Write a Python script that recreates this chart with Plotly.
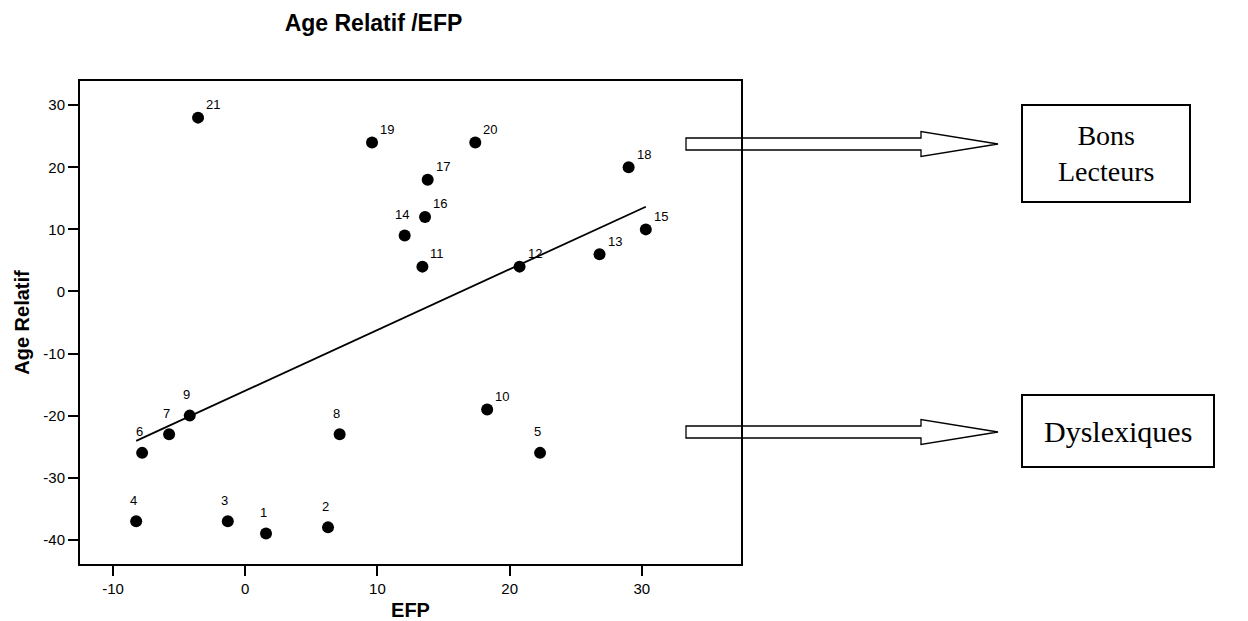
import numpy as np
import plotly.graph_objects as go

# ---------------- data ----------------
subject_ids = [str(i) for i in range(1, 22)]
efp = [1.57, 6.26, -1.32, -8.25, 22.3, -7.8, -5.76, 7.14, -4.2, 18.3,
       13.4, 20.75, 26.8, 12.06, 30.3, 13.6, 13.8, 29.0, 9.59, 17.4, -3.57]
age_relatif = [-39, -38, -37, -37, -26, -26, -23, -23, -20, -19,
               4, 4, 6, 9, 10, 12, 18, 20, 24, 24, 28]
x_ticks = [-10, 0, 10, 20, 30]
y_ticks = [-40, -30, -20, -10, 0, 10, 20, 30]
group_labels = ["Bons<br>Lecteurs", "Dyslexiques"]

# ---------------- style ----------------
W, H = 1248, 621
PL, PR, PT, PB = 80, 741, 81, 564          # plot area in pixels
SANS = "Liberation Sans, Arial, sans-serif"
SERIF = "Liberation Serif, Times New Roman, serif"
left_labelled = {"1", "2", "3", "4", "5", "6", "7", "8", "9", "14"}

def px_x(p):
    return (p - PL) / (PR - PL)

def px_y(p):
    return (PB - p) / (PB - PT)

fig = go.Figure()

# regression line (least squares from the data)
slope, intercept = np.polyfit(efp, age_relatif, 1)
xl = np.array([min(efp), max(efp)])
fig.add_trace(go.Scatter(x=xl, y=slope * xl + intercept, mode="lines",
                         line=dict(color="black", width=1.8),
                         hoverinfo="skip", showlegend=False))

fig.add_trace(go.Scatter(x=efp, y=age_relatif, mode="markers",
                         marker=dict(color="black", size=12),
                         text=subject_ids, showlegend=False))

# point labels
for sid, xv, yv in zip(subject_ids, efp, age_relatif):
    if sid in left_labelled:
        xs, ys = -3, 21
    else:
        xs, ys = 15, 13
    fig.add_annotation(x=xv, y=yv, text=sid, showarrow=False,
                       xshift=xs, yshift=ys,
                       font=dict(family=SANS, size=13, color="black"))

# hollow arrows
def arrow_path(cy):
    x0, xh, xt = 686, 921, 998
    pts = [(x0, cy - 6), (xh, cy - 6), (xh, cy - 12.5), (xt, cy),
           (xh, cy + 12.5), (xh, cy + 6), (x0, cy + 6)]
    d = "M " + " L ".join(f"{px_x(a):.5f},{px_y(b):.5f}" for a, b in pts) + " Z"
    return d

for cy in (144, 432):
    fig.add_shape(type="path", path=arrow_path(cy), xref="paper", yref="paper",
                  line=dict(color="black", width=1.3), fillcolor="rgba(0,0,0,0)",
                  layer="above")

# boxes
boxes = [(1022, 105, 1190, 202), (1022, 395, 1214, 467)]
box_font = [28, 30]
for (bx0, by0, bx1, by1), lab, fs in zip(boxes, group_labels, box_font):
    fig.add_shape(type="rect", xref="paper", yref="paper",
                  x0=px_x(bx0), x1=px_x(bx1), y0=px_y(by1), y1=px_y(by0),
                  line=dict(color="black", width=2), fillcolor="white",
                  layer="above")
    fig.add_annotation(xref="paper", yref="paper",
                       x=px_x((bx0 + bx1) / 2), y=px_y((by0 + by1) / 2),
                       text=lab, showarrow=False, xanchor="center", yanchor="middle",
                       font=dict(family=SERIF, size=fs, color="black"))

axis_common = dict(showline=True, linecolor="black", linewidth=2, mirror=True,
                   ticks="outside", ticklen=10, tickwidth=2, tickcolor="black",
                   showgrid=False, zeroline=False, automargin=False,
                   tickfont=dict(family=SANS, size=15, color="black"))

fig.update_layout(
    width=W, height=H,
    margin=dict(l=PL, r=W - PR, t=PT, b=H - PB, autoexpand=False),
    paper_bgcolor="white", plot_bgcolor="white",
    showlegend=False,
    title=dict(text="<b>Age Relatif /EFP</b>", xref="container", yref="container",
               x=373.5 / W, y=1 - 23 / H, xanchor="center", yanchor="middle",
               font=dict(family=SANS, size=23, color="black")),
    xaxis=dict(range=[-12.5, 37.5], tickvals=x_ticks,
               ticktext=[str(v) for v in x_ticks],
               title=dict(text="<b>EFP</b>", standoff=13,
                          font=dict(family=SANS, size=20, color="black")),
               **axis_common),
    yaxis=dict(range=[-43.9, 33.9], tickvals=y_ticks,
               ticktext=[str(v) for v in y_ticks],
               title=dict(text="<b>Age Relatif</b>", standoff=8,
                          font=dict(family=SANS, size=20, color="black")),
               **axis_common),
)

fig.write_html("out.html", include_plotlyjs=True, full_html=True,
               config={"displayModeBar": False, "responsive": False},
               post_script="document.body.style.margin='0';document.body.style.overflow='hidden';")
